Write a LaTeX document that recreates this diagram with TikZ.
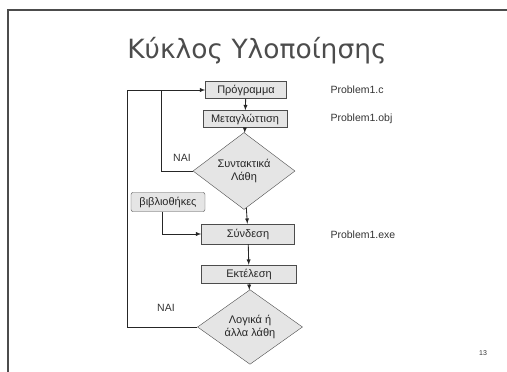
\documentclass[tikz,border=0pt]{standalone}
\usepackage{fontspec}
\setmainfont{Liberation Sans}
\newfontfamily\titlefont{DejaVu Sans}
\usetikzlibrary{positioning,shapes.geometric}

\begin{document}
\begin{tikzpicture}[x=1pt,y=-1pt]
\tikzstyle{stage}=[rectangle,draw=gray!60!black,fill=gray!20,text=black!85,font=\fontsize{11}{12}\selectfont,minimum height=17pt,inner sep=1pt]
\tikzstyle{test}=[diamond,draw=gray!60!black,fill=gray!20,text=black!85,align=center,inner sep=0pt,font=\fontsize{11}{13.5}\selectfont]
\tikzstyle{note}=[text=black!80,font=\fontsize{10.5}{12}\selectfont]
\tikzstyle{flow}=[->,-latex,line width=.3mm,black!85]
\tikzstyle{wire}=[line width=.3mm,black!85]
    \useasboundingbox (0,0) rectangle (507,372);
    \draw[gray!60!black,line width=.4mm] (8,372) -- (8,10) -- (507,10);
    \node[text=black!70] (title) at (257,51) {\titlefont\fontsize{26.5}{30}\selectfont Κύκλος Υλοποίησης};
    \node[stage,minimum width=81pt] (prog) at (246,90) {Πρόγραμμα};
    \node[stage,minimum width=84pt] (comp) at (245,119) {Μεταγλώττιση};
    \node[test,minimum width=102pt,minimum height=72pt] (synt) at (244,171) {Συντακτικά\\Λάθη};
    \node[stage,rounded corners=2pt,minimum width=74pt,minimum height=19pt] (lib) at (168,202) {βιβλιοθήκες};
    \node[stage,minimum width=93pt,minimum height=20pt] (link) at (248,234) {Σύνδεση};
    \node[stage,minimum width=95pt,minimum height=18pt] (exec) at (249,274) {Εκτέλεση};
    \node[test,minimum width=105pt,minimum height=66pt] (logic) at (250,327) {Λογικά ή\\άλλα λάθη};
    \node[note] (yes1) at (182,158) {NAI};
    \node[note] (yes2) at (166,308) {NAI};
    \node[note,anchor=west] (fc) at (327,90) {Problem1.c};
    \node[note,anchor=west] (fobj) at (327,119) {Problem1.obj};
    \node[note,anchor=west] (fexe) at (327,235) {Problem1.exe};
    \node[text=black!80,font=\fontsize{7}{8}\selectfont] (page) at (483,353) {13};
    \coordinate (inner) at (161,90);
    \coordinate (outer) at (127,90);
    \draw[flow] (prog) to (comp);
    \draw[flow] (comp) to (synt);
    \draw[flow] (synt) to (link);
    \draw[flow] (link) to (exec);
    \draw[flow] (exec) to (logic);
    \draw[wire] (synt.west) -| (inner);
    \draw[flow] (logic.west) -| (outer) -- (prog.west);
    \draw[flow] ([xshift=-6pt]lib.south) |- (link.west);
  \end{tikzpicture}
\end{document}
